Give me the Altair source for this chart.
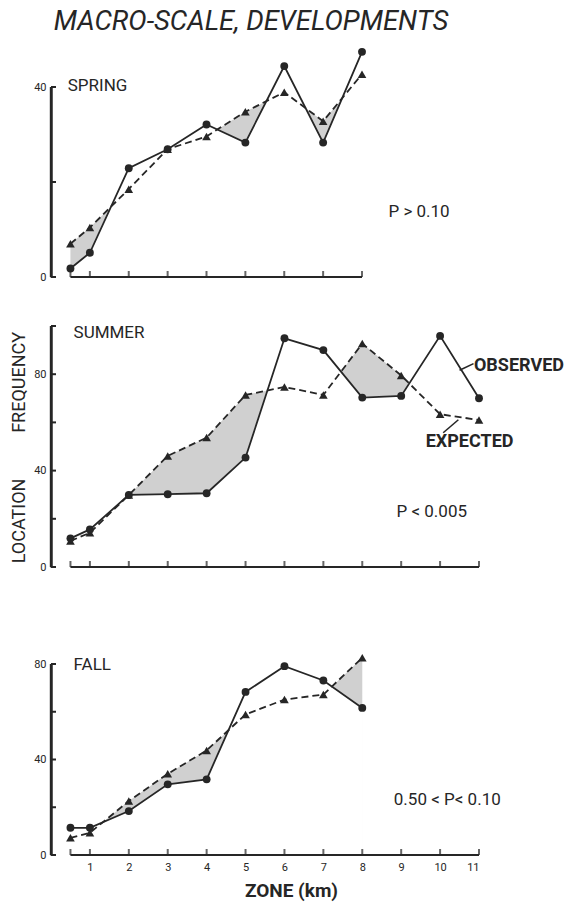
import altair as alt
import pandas as pd

# Zone positions (km) and location frequencies per season
ZONES = [0.5, 1, 2, 3, 4, 5, 6, 7, 8, 9, 10, 11]

spring_zone = ZONES[:9]
spring_observed = [1.8, 5.1, 22.9, 26.9, 32.1, 28.3, 44.4, 28.3, 47.4]
spring_expected = [7.0, 10.4, 18.5, 26.9, 29.6, 34.8, 38.9, 32.8, 42.7]

summer_zone = ZONES
summer_observed = [11.9, 15.6, 29.9, 30.2, 30.6, 45.4, 94.9, 90.0, 70.3, 71.0, 95.9, 70.0]
summer_expected = [10.8, 14.2, 29.9, 46.1, 53.7, 71.4, 74.7, 71.4, 92.7, 79.5, 63.4, 61.0]

fall_zone = ZONES[:9]
fall_observed = [11.4, 11.4, 18.4, 29.6, 31.7, 68.3, 79.1, 73.1, 61.6]
fall_expected = [7.2, 9.3, 22.6, 34.0, 43.8, 58.9, 65.1, 67.2, 82.6]

X_LABELS = [1, 2, 3, 4, 5, 6, 7, 8, 9, 10, 11]

FONT = "Roboto"
INK = "#262626"
SHADE = "#d0d0d0"
X_LEFT = 0.0          # left edge of the x scale, where the vertical axis sits
PX_PER_ZONE = 38.9
HALF_LINE = 1.2 / PX_PER_ZONE  # half width of the vertical axis bar, in zone units
Y_TICK_LEN = 5 / PX_PER_ZONE   # inward tick length on the y axis, in zone units


def panel(zones, obs, exp, x_end, y_top, px_per_unit, y_ticks, y_labels,
          texts, show_x_labels=False, rules=None):
    df = pd.DataFrame({"zone": zones, "observed": obs, "expected": exp})
    xs = alt.Scale(domain=[X_LEFT, x_end], nice=False, zero=False)
    ys = alt.Scale(domain=[0, y_top], nice=False, zero=True)
    x_axis = alt.Axis(domain=False, ticks=False, grid=False, title=None,
                      labels=show_x_labels, values=X_LABELS, format="d",
                      labelFont=FONT, labelFontSize=11, labelColor=INK,
                      labelPadding=6)
    y_axis = alt.Axis(domain=True, domainColor=INK, domainWidth=2.4, zindex=2,
                      ticks=False, grid=False, title=None,
                      values=y_labels, labelFont=FONT, labelFontSize=11,
                      labelColor=INK, labelPadding=5)

    def X(field):
        return alt.X(field, type="quantitative", scale=xs, axis=x_axis)

    def Y(field):
        return alt.Y(field, type="quantitative", scale=ys, axis=y_axis)

    base = alt.Chart(df)
    # shading where expected exceeds observed: grey under expected, white under observed
    grey = base.mark_area(color=SHADE, opacity=1).encode(x=X("zone"), y=Y("expected"))
    white = base.mark_area(color="white", opacity=1, stroke="white", strokeWidth=1.2).encode(
        x=X("zone"), y=Y("observed"))

    # horizontal axis line from the first zone to the last
    hline = alt.Chart(pd.DataFrame({"x": [zones[0]], "x2": [x_end], "y": [0]})).mark_rule(
        color=INK, strokeWidth=2).encode(x=X("x"), x2="x2", y=Y("y"))
    # vertical axis line from 0 to the top value, as a thin filled bar
    vbar = alt.Chart(pd.DataFrame({
        "x": [X_LEFT - HALF_LINE], "x2": [X_LEFT + HALF_LINE],
        "y": [0], "y2": [y_top]})).mark_rect(color=INK, opacity=1).encode(
        x=X("x"), x2="x2", y=Y("y"), y2="y2")

    tick_pos = [z for z in ZONES if z <= x_end]
    x_ticks = alt.Chart(pd.DataFrame({"t": tick_pos, "y": [0] * len(tick_pos)})).mark_tick(
        orient="vertical", size=6, thickness=2, yOffset=-3, color=INK).encode(
        x=X("t"), y=Y("y"))
    y_tick_df = pd.DataFrame({"x": [X_LEFT] * len(y_ticks),
                              "x2": [X_LEFT + Y_TICK_LEN] * len(y_ticks),
                              "v": y_ticks})
    y_tk = alt.Chart(y_tick_df).mark_rule(color=INK, strokeWidth=2).encode(
        x=X("x"), x2="x2", y=Y("v"))

    exp_line = base.mark_line(color=INK, strokeWidth=1.8, strokeDash=[7, 4]).encode(
        x=X("zone"), y=Y("expected"))
    obs_line = base.mark_line(color=INK, strokeWidth=1.8).encode(
        x=X("zone"), y=Y("observed"))
    tri = base.mark_point(shape="triangle-up", filled=True, size=75, color=INK, opacity=1).encode(
        x=X("zone"), y=Y("expected"))
    dots = base.mark_point(shape="circle", filled=True, size=62, color=INK, opacity=1).encode(
        x=X("zone"), y=Y("observed"))

    layers = [grey, white, exp_line, obs_line, tri, dots, hline, x_ticks, y_tk]

    if rules:
        rdf = pd.DataFrame(rules, columns=["x", "y", "x2", "y2"])
        layers.append(alt.Chart(rdf).mark_rule(color=INK, strokeWidth=1.6).encode(
            x=X("x"), y=Y("y"), x2="x2", y2="y2"))

    for t in texts:
        txt, tx, ty, kw = t
        tdf = pd.DataFrame({"x": [tx], "y": [ty], "t": [txt]})
        style = dict(font=FONT, fontSize=17, color=INK, align="left", baseline="middle")
        style.update(kw)
        layers.append(alt.Chart(tdf).mark_text(**style).encode(
            x=X("x"), y=Y("y"), text="t:N"))

    layers.append(vbar)

    width = round((x_end - X_LEFT) * PX_PER_ZONE)
    height = round(y_top * px_per_unit)
    return alt.layer(*layers).properties(width=width, height=height)


spring = panel(
    spring_zone, spring_observed, spring_expected, 8, 40, 4.75,
    [0, 20, 40], [0, 40],
    [
        ("MACRO-SCALE, DEVELOPMENTS", 0.07, 52, dict(fontSize=27.5, fontStyle="italic",
                                                     baseline="alphabetic")),
        ("SPRING", 0.43, 40.2, {}),
        ("P > 0.10", 8.68, 13.7, {}),
    ],
)

summer = panel(
    summer_zone, summer_observed, summer_expected, 11, 100, 2.41,
    [0, 20, 40, 60, 80, 100], [0, 40, 80],
    [
        ("SUMMER", 0.58, 97.3, {}),
        ("P < 0.005", 8.88, 22.8, {}),
        ("OBSERVED", 10.87, 81.3, dict(fontSize=18, fontWeight="bold", baseline="alphabetic")),
        ("EXPECTED", 9.63, 49.8, dict(fontSize=18, fontWeight="bold", baseline="alphabetic")),
        ("LOCATION", -0.8, 19.1, dict(fontSize=18, angle=270, align="center")),
        ("FREQUENCY", -0.8, 76.6, dict(fontSize=18, angle=270, align="center")),
    ],
    rules=[(10.5, 81.6, 10.86, 84.4), (10.47, 61.1, 10.08, 55.7)],
)

fall = panel(
    fall_zone, fall_observed, fall_expected, 11, 80, 2.39,
    [0, 20, 40, 60, 80], [0, 40, 80],
    [
        ("FALL", 0.58, 79.5, {}),
        ("0.50 < P< 0.10", 8.81, 23.0, {}),
        ("ZONE (km)", 6.18, -15.1, dict(fontSize=19, fontWeight="bold", align="center")),
    ],
    show_x_labels=True,
)

chart = alt.vconcat(
    alt.vconcat(spring, summer, spacing=41),
    fall,
    spacing=82,
).properties(
    padding={"left": 10, "top": 8, "right": 0, "bottom": 0},
    background="white",
).configure_view(stroke=None)

chart.save("out.html", embed_options={"renderer": "svg", "actions": False})
